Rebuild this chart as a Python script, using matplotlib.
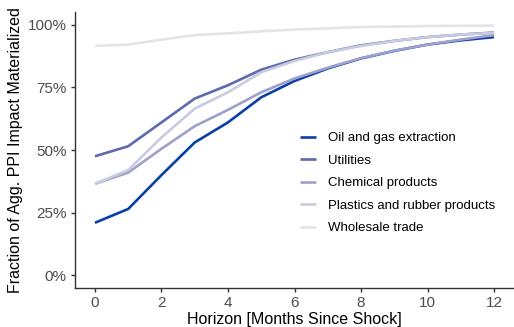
import matplotlib
matplotlib.use("Agg")
import matplotlib.pyplot as plt
from matplotlib.ticker import FuncFormatter

plt.rcParams['font.family'] = ['Liberation Sans', 'DejaVu Sans']

horizon = list(range(13))

industries = [
    "Oil and gas extraction",
    "Utilities",
    "Chemical products",
    "Plastics and rubber products",
    "Wholesale trade",
]

oil_gas = [0.21, 0.265, 0.40, 0.53, 0.61, 0.71, 0.775, 0.825, 0.865, 0.895, 0.92, 0.937, 0.95]
utilities = [0.475, 0.515, 0.61, 0.705, 0.758, 0.82, 0.86, 0.89, 0.917, 0.935, 0.95, 0.96, 0.968]
chemical = [0.365, 0.41, 0.505, 0.595, 0.66, 0.73, 0.785, 0.828, 0.866, 0.896, 0.92, 0.94, 0.958]
plastics = [0.365, 0.42, 0.55, 0.665, 0.73, 0.81, 0.855, 0.89, 0.915, 0.935, 0.95, 0.96, 0.967]
wholesale = [0.915, 0.92, 0.94, 0.958, 0.965, 0.973, 0.98, 0.985, 0.99, 0.992, 0.994, 0.995, 0.996]

series = [oil_gas, utilities, chemical, plastics, wholesale]
colors = ["#0a3fa6", "#5f69ad", "#9da1cb", "#c9cbdf", "#e4e4e4"]

y_ticks = [0, 0.25, 0.5, 0.75, 1.0]
x_ticks = [0, 2, 4, 6, 8, 10, 12]

W, H = 514, 327
fig = plt.figure(figsize=(W / 100, H / 100), dpi=100)
ax = fig.add_axes([75 / W, 39 / H, (514 - 75) / W, (288 - 12) / H])

for name, vals, col in zip(industries, series, colors):
    ax.plot(horizon, vals, color=col, lw=1.9, label=name, solid_capstyle='butt')

ax.set_xlim(-0.6, 12.6)
ax.set_ylim(-0.05, 1.05)
ax.set_xticks(x_ticks)
ax.set_yticks(y_ticks)
ax.yaxis.set_major_formatter(FuncFormatter(lambda v, _: f"{v * 100:.0f}%"))

for side in ("top", "right"):
    ax.spines[side].set_visible(False)
for side in ("left", "bottom"):
    ax.spines[side].set_color("#333333")
    ax.spines[side].set_linewidth(1.0)

ax.tick_params(axis='both', colors="#333333", labelcolor="#4d4d4d",
               labelsize=11, length=3, width=1.0, pad=3)

ax.set_xlabel("Horizon [Months Since Shock]", fontsize=11.5, color="black", labelpad=1)
ax.set_ylabel("Fraction of Agg. PPI Impact Materialized", fontsize=11.5, color="black", labelpad=3)

leg = ax.legend(loc='upper left', bbox_to_anchor=(0.486, 0.608), frameon=False,
                fontsize=9.5, handlelength=1.2, handletextpad=0.9, labelspacing=0.78)

fig.savefig("out.png", dpi=100)
